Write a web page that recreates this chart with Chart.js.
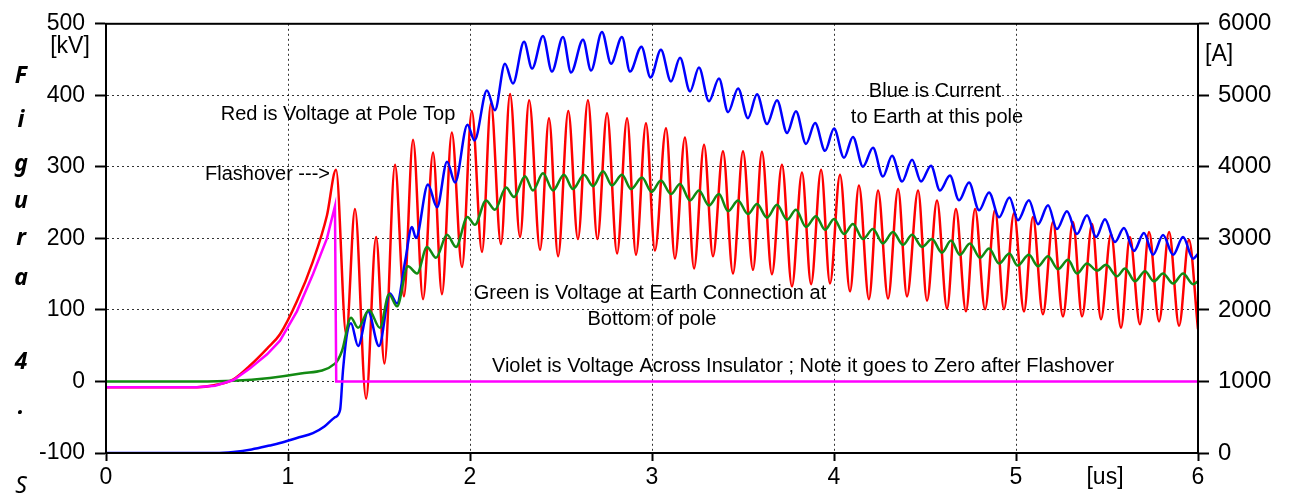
<!DOCTYPE html>
<html>
<head>
<meta charset="utf-8">
<script src="https://cdn.jsdelivr.net/npm/chart.js@4.4.1/dist/chart.umd.min.js"></script>
<style>
  html, body { margin: 0; padding: 0; background: #fff; }
  #wrap { width: 1290px; height: 498px; position: relative; }
</style>
</head>
<body>
<div id="wrap"><canvas id="grafico"></canvas></div>
<script>
// tempo [us], tensao [kV]
const redPts = [
  [0,-8],[0.5,-8],[0.6,-5],[0.7,3],[0.79,22],[0.885,46],[0.956,66],[1.049,112],[1.137,168],[1.214,232],[1.264,296],
  [1.32,65],[1.368,241],[1.429,-24],[1.484,202],[1.53,25],[1.588,303],[1.637,119],[1.687,338],[1.742,115],
  [1.797,320],[1.846,122],[1.90,348],[1.956,160],[2.01,378],[2.066,181],[2.115,389],[2.17,192],[2.22,402],
  [2.275,202],[2.325,393],[2.385,184],[2.434,368],[2.484,175],[2.54,378],[2.593,199],[2.648,393],[2.70,199],
  [2.753,375],[2.808,179],[2.863,368],[2.912,177],[2.967,361],[3.016,183],[3.077,354],[3.126,172],[3.181,341],
  [3.231,158],[3.286,331],[3.335,175],[3.39,322],[3.445,151],[3.50,322],[3.555,156],[3.604,321],[3.659,150],
  [3.714,303],[3.769,133],[3.824,292],[3.874,136],[3.929,296],[3.978,137],[4.033,289],[4.088,126],[4.137,274],
  [4.192,115],[4.242,267],[4.297,116],[4.352,269],[4.401,119],[4.462,267],[4.511,113],[4.566,253],[4.621,102],
  [4.67,241],[4.725,98],[4.775,241],[4.83,101],[4.885,240],[4.934,101],[4.989,235],[5.044,98],[5.093,230],
  [5.148,94],[5.203,223],[5.258,91],[5.313,223],[5.363,91],[5.418,220],[5.467,87],[5.522,206],[5.577,75],
  [5.626,202],[5.681,80],[5.731,209],[5.786,84],[5.841,209],[5.896,78],[5.95,198],[6.0,73]
];

// corrente [A] (eixo direito)
const bluePts = [
  [0,0],[0.6,0],[0.7,15],[0.8,50],[0.9,105],[0.956,139],[1.049,210],[1.137,277],[1.2,370],[1.258,499],
  [1.286,600],[1.302,1150],[1.324,1662],[1.346,1815],[1.385,1496],[1.44,1980],[1.50,1496],[1.56,2230],
  [1.599,2091],[1.643,2673],[1.681,3158],[1.703,3005],[1.769,3753],[1.819,3435],[1.874,4072],[1.918,3781],
  [1.986,4590],[2.025,4370],[2.093,5069],[2.137,4792],[2.192,5443],[2.236,5166],[2.297,5748],[2.341,5374],
  [2.401,5831],[2.45,5332],[2.511,5817],[2.555,5319],[2.621,5776],[2.665,5346],[2.725,5886],[2.775,5443],
  [2.835,5817],[2.879,5332],[2.942,5680],[2.992,5249],[3.049,5637],[3.104,5194],[3.154,5526],[3.209,5055],
  [3.258,5388],[3.313,4917],[3.368,5235],[3.418,4765],[3.473,5097],[3.527,4681],[3.577,5014],[3.632,4598],
  [3.687,4931],[3.742,4474],[3.791,4778],[3.846,4321],[3.896,4612],[3.951,4224],[4.0,4536],[4.055,4127],
  [4.104,4418],[4.159,4003],[4.214,4266],[4.269,3864],[4.319,4155],[4.374,3795],[4.429,4100],[4.478,3795],
  [4.533,4017],[4.582,3670],[4.637,3878],[4.687,3532],[4.742,3781],[4.797,3393],[4.852,3643],[4.907,3296],
  [4.964,3573],[5.011,3255],[5.071,3532],[5.121,3199],[5.176,3463],[5.225,3130],[5.28,3380],[5.335,3061],
  [5.39,3324],[5.44,3019],[5.489,3269],[5.544,2950],[5.593,3144],[5.648,2825],[5.703,3075],[5.753,2770],
  [5.808,3047],[5.863,2770],[5.918,3019],[5.973,2715],[6.0,2784]
];

const greenPts = [
  [0,0],[0.5,0],[0.7,1],[0.9,5],[1.07,11],[1.258,25],[1.297,43],[1.346,89],[1.385,75],[1.445,100],[1.505,75],
  [1.555,122],[1.599,105],[1.659,161],[1.709,151],[1.764,188],[1.813,173],[1.874,205],[1.923,188],[1.986,230],
  [2.027,219],[2.088,253],[2.137,240],[2.198,271],[2.242,258],[2.302,287],[2.346,267],[2.401,291],[2.456,267],
  [2.516,289],[2.566,269],[2.626,289],[2.676,273],[2.731,294],[2.78,274],[2.835,289],[2.885,269],[2.945,285],
  [2.998,265],[3.049,281],[3.104,262],[3.154,276],[3.209,253],[3.258,267],[3.313,246],[3.368,262],[3.418,238],
  [3.473,253],[3.527,234],[3.577,248],[3.632,229],[3.687,247],[3.742,226],[3.791,240],[3.846,216],[3.901,231],
  [3.951,212],[4.0,227],[4.055,206],[4.104,220],[4.159,199],[4.214,213],[4.269,193],[4.324,209],[4.379,191],
  [4.429,205],[4.484,188],[4.538,199],[4.593,180],[4.643,197],[4.692,177],[4.747,193],[4.802,173],[4.852,186],
  [4.907,165],[4.964,179],[5.008,162],[5.071,177],[5.121,161],[5.176,175],[5.231,157],[5.286,170],[5.335,151],
  [5.39,165],[5.445,155],[5.495,163],[5.555,147],[5.599,158],[5.654,140],[5.709,154],[5.758,140],[5.808,151],
  [5.863,137],[5.918,151],[5.973,136],[6.0,140]
];

const violetPts = [
  [0,-8],[0.5,-8],[0.6,-6],[0.7,2],[0.79,18],[0.885,38],[0.956,57],[1.049,98],[1.137,150],[1.214,200],
  [1.258,245],[1.265,0],[6,0]
];

const xTicks = [0, 1, 2, 3, 4, 5, 6];
const kvTicks = [-100, 0, 100, 200, 300, 400, 500];
const ampTicks = [0, 1000, 2000, 3000, 4000, 5000, 6000];

const anotacoes = [
  { t: 'Red is Voltage at Pole Top', x: 338, y: 114, align: 'center' },
  { t: 'Flashover --->', x: 205, y: 174, align: 'left' },
  { t: 'Blue is Current', x: 935, y: 91, align: 'center' },
  { t: 'to Earth at this pole', x: 937, y: 117, align: 'center' },
  { t: 'Green is Voltage at Earth Connection at', x: 650, y: 293, align: 'center' },
  { t: 'Bottom of pole', x: 652, y: 319, align: 'center' },
  { t: 'Violet is Voltage Across Insulator ; Note it goes to Zero after Flashover', x: 803, y: 366, align: 'center' }
];
const unidades = [
  { t: '[kV]', x: 70, y: 47, align: 'center' },
  { t: '[A]', x: 1205, y: 55, align: 'left' },
  { t: '[us]', x: 1105, y: 478, align: 'center' }
];
const legenda = [
  ['F', 76], ['i', 120], ['g', 164], ['u', 201], ['r', 238], ['a', 278], ['4', 362], ['.', 407]
];

const toXY = pts => pts.map(p => ({ x: p[0], y: p[1] }));
const FONTE = '"Liberation Sans", Arial, sans-serif';

const moldura = {
  id: 'moldura',
  afterDatasetsDraw(chart) {
    const { ctx, chartArea: a } = chart;
    ctx.save();
    ctx.strokeStyle = '#000';
    ctx.lineWidth = 2;
    ctx.strokeRect(a.left, a.top, a.right - a.left, a.bottom - a.top);
    ctx.restore();
  },
  afterDraw(chart) {
    const ctx = chart.ctx;
    ctx.save();
    ctx.fillStyle = '#000';
    ctx.textBaseline = 'middle';
    ctx.font = '20px ' + FONTE;
    anotacoes.forEach(a => { ctx.textAlign = a.align; ctx.fillText(a.t, a.x, a.y); });
    ctx.font = '23px ' + FONTE;
    unidades.forEach(a => { ctx.textAlign = a.align; ctx.fillText(a.t, a.x, a.y); });
    ctx.textAlign = 'center';
    ctx.font = 'italic bold 23px "Noto Sans", sans-serif';
    legenda.forEach(l => ctx.fillText(l[0], 21, l[1]));
    ctx.font = 'italic 23px "Noto Sans", sans-serif';
    ctx.fillText('S', 21, 486);
    ctx.restore();
  }
};

function linha(label, pts, cor, eixo, ordem, suave) {
  return {
    label: label,
    data: toXY(pts),
    borderColor: cor,
    borderWidth: 2.5,
    pointRadius: 0,
    fill: false,
    yAxisID: eixo,
    order: ordem,
    cubicInterpolationMode: suave ? 'monotone' : 'default',
    tension: 0
  };
}

const gradeComum = {
  color: 'rgba(0,0,0,0.8)',
  lineWidth: 1,
  tickBorderDash: [],
  tickColor: '#000',
  tickWidth: 2
};
const bordaComum = { color: '#000', width: 2, dash: [2, 3] };

new Chart(document.getElementById('grafico'), {
  type: 'line',
  data: {
    datasets: [
      linha('Violet', violetPts, '#ff00ff', 'y', 0, false),
      linha('Green', greenPts, '#138a13', 'y', 1, true),
      linha('Blue', bluePts, '#0000ff', 'y2', 2, true),
      linha('Red', redPts, '#ff0000', 'y', 3, true)
    ]
  },
  options: {
    responsive: true,
    maintainAspectRatio: false,
    animation: false,
    events: [],
    layout: { padding: { top: 20, left: 0, right: 0, bottom: 0 } },
    plugins: { legend: { display: false }, tooltip: { enabled: false } },
    scales: {
      x: {
        type: 'linear', min: 0, max: 6,
        afterBuildTicks: s => { s.ticks = xTicks.map(v => ({ value: v })); },
        afterFit: s => { s.height = 45; },
        border: bordaComum,
        grid: Object.assign({}, gradeComum, { tickLength: 8 }),
        ticks: { color: '#000', font: { family: FONTE, size: 23 }, padding: 3, maxRotation: 0 }
      },
      y: {
        type: 'linear', position: 'left', min: -100, max: 500,
        afterBuildTicks: s => { s.ticks = kvTicks.map(v => ({ value: v })); },
        afterFit: s => { s.width = 106; },
        border: bordaComum,
        grid: Object.assign({}, gradeComum, { tickLength: 11 }),
        ticks: { color: '#000', font: { family: FONTE, size: 23 }, padding: 10 }
      },
      y2: {
        type: 'linear', position: 'right', min: 0, max: 6000,
        afterBuildTicks: s => { s.ticks = ampTicks.map(v => ({ value: v })); },
        afterFit: s => { s.width = 92; },
        border: { color: '#000', width: 2 },
        grid: { drawOnChartArea: false, tickLength: 11, tickColor: '#000', tickWidth: 2 },
        ticks: { color: '#000', font: { family: FONTE, size: 24 }, padding: 9, callback: v => String(v) }
      }
    }
  },
  plugins: [moldura]
});
</script>
</body>
</html>
